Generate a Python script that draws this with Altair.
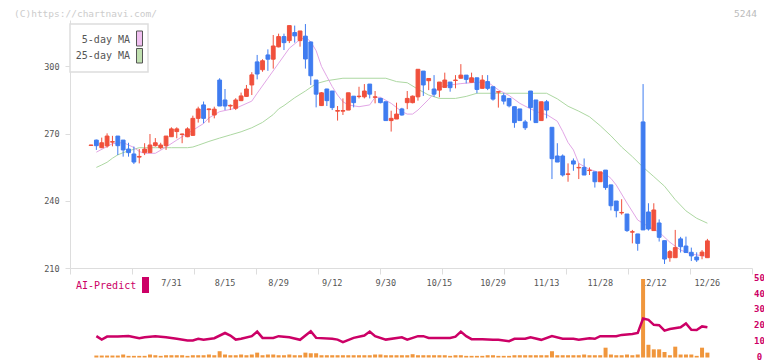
import altair as alt
import numpy as np
import pandas as pd

# ---------------- data ----------------
opens = [264.7,267.1,263.7,264.5,266.2,268.9,267.1,263.1,260.9,259.5,
         261.5,261.5,264.6,263.7,264.6,268.6,270.9,269.6,268.6,269.2,
         276.8,282.8,280.7,278.3,293.9,285.0,282.3,281.3,284.7,286.6,
         291.7,302.0,298.5,305.1,303.2,308.7,313.3,311.5,315.1,311.5,
         313.5,310.9,293.9,282.5,289.9,289.0,280.0,280.0,280.5,286.7,
         286.5,286.4,292.1,286.2,285.7,284.2,275.8,276.5,281.0,283.8,
         283.8,286.4,297.9,293.6,289.9,289.4,290.6,293.0,293.7,294.7,
         296.1,292.9,294.9,290.2,293.2,290.9,288.5,286.9,285.7,282.0,
         281.0,275.2,289.0,285.0,275.8,284.2,272.8,260.0,260.0,251.8,
         257.8,254.7,254.9,253.5,252.9,248.5,253.7,247.1,239.9,234.6,
         234.1,226.0,225.2,275.2,235.0,226.7,230.1,222.2,214.6,214.6,
         223.0,219.8,217.0,214.9,215.5,214.6]
highs = [265.0,267.3,268.2,270.1,269.0,268.9,267.1,265.9,264.2,263.1,
         265.7,269.8,268.0,265.9,268.9,272.8,272.8,270.0,272.8,278.0,
         282.0,284.3,281.2,282.0,294.7,289.9,283.0,285.8,288.3,291.7,
         297.4,305.1,303.2,307.6,314.0,314.6,314.6,318.2,318.2,315.8,
         318.9,311.0,293.9,288.5,290.0,289.0,282.3,285.7,288.2,286.7,
         290.9,292.1,292.1,289.0,286.0,284.2,280.2,283.8,281.5,289.0,
         287.0,298.7,297.9,294.6,296.1,293.0,297.2,293.0,296.1,301.0,
         296.1,297.2,294.9,296.1,296.1,290.9,289.0,288.0,285.7,282.0,
         281.0,276.1,289.0,285.0,284.2,285.0,272.8,265.7,260.7,256.7,
         258.9,256.7,258.9,254.9,252.9,252.9,253.7,247.1,239.9,240.7,
         234.1,227.0,225.2,292.1,238.9,238.9,231.7,222.2,218.0,227.0,
         223.9,224.0,219.1,217.0,218.0,223.0]
lows = [264.6,262.7,263.5,263.7,264.3,260.4,259.7,259.7,256.4,256.7,
        260.4,261.5,264.2,263.0,262.7,268.6,267.9,265.7,268.4,269.0,
        274.9,274.6,274.9,276.8,282.3,280.5,280.5,280.5,284.5,286.4,
        287.2,294.2,297.6,298.0,299.0,308.5,307.3,310.4,310.6,308.8,
        299.0,291.7,281.7,282.3,282.3,280.5,275.8,278.3,280.5,281.7,
        285.7,285.7,285.7,283.5,283.5,275.8,270.9,276.5,278.0,280.9,
        283.5,284.7,286.8,289.4,286.4,286.2,290.6,288.7,290.2,294.6,
        292.4,292.9,288.0,290.2,289.4,284.7,281.6,283.0,281.7,272.6,
        275.8,271.6,275.8,274.9,275.8,276.8,249.7,257.3,250.8,248.5,
        253.4,249.7,251.5,251.5,245.9,248.5,244.9,235.7,232.6,233.8,
        226.1,221.0,217.7,227.0,226.7,226.7,221.8,211.8,212.8,214.6,
        216.9,216.9,213.1,212.7,213.9,214.6]
closes = [264.9,264.6,265.9,268.9,266.4,264.6,262.7,261.5,257.3,259.8,
          263.1,264.9,265.9,264.9,268.9,272.1,272.1,269.8,272.1,276.8,
          281.0,276.8,281.0,280.9,282.3,282.3,282.6,285.0,286.8,289.9,
          296.2,296.6,302.5,303.2,309.1,313.3,310.6,318.2,313.6,315.8,
          303.3,295.8,287.6,288.2,284.7,281.6,280.3,280.3,288.2,283.8,
          286.7,289.0,287.6,286.4,283.8,275.8,276.8,278.7,278.3,285.7,
          286.7,298.7,291.7,294.6,287.6,293.0,293.9,290.5,293.9,296.1,
          294.2,294.9,289.7,293.9,290.2,285.4,288.7,284.5,282.4,274.9,
          275.8,272.6,281.6,274.9,284.2,280.5,258.8,257.3,251.5,252.0,
          256.4,254.9,251.5,253.7,248.5,252.9,245.9,237.8,235.6,234.8,
          226.7,226.2,221.0,227.0,227.4,235.9,223.7,214.0,217.3,219.1,
          219.5,216.9,215.4,213.6,217.1,222.1]

ma5_idx = [1,4,6,8,9,10,12,14,16,18,19,21,22,24,27,30,31,33,35,37,
           39,40,41,42,43,44,45,46,47,48,50,52,53,54,56,58,59,60,61,63,
           65,67,69,72,74,76,78,80,82,84,85,87,88,89,90,91,93,95,96,97,
           98,100,102,104,106,108,110,112,114,115]
ma5_val = [261.7,265.5,266.0,263.8,262.0,261.2,261.2,264.0,267.1,270.1,
           271.5,274.5,277.0,279.8,281.3,284.5,288.0,294.7,301.4,308.1,
           312.0,313.0,311.0,307.0,300.0,295.5,291.0,287.2,284.2,282.8,
           282.0,282.8,286.2,286.2,283.5,279.8,278.7,278.7,280.5,285.3,
           290.6,291.7,292.3,292.9,293.0,289.5,287.0,283.5,281.0,279.0,
           278.5,275.5,271.0,266.0,262.7,256.7,254.0,252.5,252.0,250.0,
           247.0,239.0,231.4,228.5,226.0,221.5,218.0,216.2,215.5,215.1]

ma25_idx = [1,2,3,4,5,6,8,9,12,15,18,19,20,22,24,26,28,30,32,34,
            35,36,38,40,42,44,47,50,55,57,59,61,63,65,68,70,72,78,85,87,
            89,91,93,95,97,99,101,103,105,107,109,111,113,115]
ma25_val = [254.9,256.0,257.2,259.0,260.5,261.5,263.0,263.7,263.7,263.7,
            263.7,264.0,264.8,266.5,268.0,269.4,270.8,272.6,275.0,278.5,
            281.0,282.5,286.0,289.0,292.3,293.6,294.7,294.7,294.7,293.2,
            292.7,289.8,287.2,285.7,285.7,286.6,288.0,288.0,288.0,285.5,
            282.2,280.0,277.5,273.5,269.0,264.0,259.7,255.0,250.8,246.5,
            240.5,235.5,232.2,230.0]

pred_idx = [1,2,3,5,7,9,10,12,14,16,18,19,20,21,23,25,26,27,28,30,
            31,32,34,35,37,39,41,42,45,46,47,49,51,52,53,55,58,59,61,62,
            63,67,68,69,70,71,73,75,76,78,79,81,82,84,86,88,90,91,93,94,
            95,98,99,101,102,103,104,105,106,107,108,110,111,112,113,114,115]
pred_val = [13.6,11.4,13.3,13.3,13.75,12.3,12.9,13.6,12.9,11.9,
            10.8,10.8,11.9,11.25,12.3,15.6,14.0,11.4,11.9,13.6,
            16.5,12.5,12.5,13.6,12.9,11.25,16.7,12.5,11.9,11.4,
            9.8,12.5,14.0,16.5,13.6,11.4,12.9,11.4,13.6,13.6,
            12.5,12.5,13.3,16.5,13.6,11.7,11.7,11.25,11.25,10.4,
            11.9,11.9,12.9,11.25,13.6,11.9,11.9,11.25,12.3,11.9,
            13.6,13.6,14.4,15.0,15.6,24.8,24.0,20.8,20.6,17.1,
            18.1,19.2,21.7,17.7,17.5,19.8,19.2]

vol_val = [1.25,1.25,1.25,1.25,1.25,1.9,1.05,1.05,1.05,1.05,
           1.9,1.45,1.05,1.45,1.45,1.45,1.45,1.05,1.45,1.45,
           1.45,1.9,1.45,4.0,1.9,1.45,1.45,1.9,1.45,1.9,
           3.1,1.45,1.9,1.9,1.45,1.45,1.9,1.45,1.45,3.1,
           2.7,2.7,1.45,1.45,1.45,1.45,1.45,1.45,1.45,1.45,
           1.45,1.45,1.9,1.9,1.45,1.45,1.45,1.45,1.45,2.1,
           1.45,1.45,1.45,1.45,1.45,1.45,1.05,1.45,1.45,1.05,
           1.05,1.05,1.05,1.45,1.45,1.05,1.05,1.05,1.45,1.45,
           1.45,1.45,1.45,1.45,1.45,4.0,1.45,1.45,1.45,1.45,
           1.45,1.9,1.45,1.45,1.45,6.25,1.9,1.45,1.45,1.9,
           1.45,1.9,50.0,8.1,5.2,5.2,3.5,1.45,6.9,1.9,
           1.9,1.9,1.05,6.25,3.1]
vol_idx = list(range(1, 1 + len(vol_val)))

label_idx = [15, 25, 35, 45, 55, 65, 75, 85, 95, 105, 115]
label_text = ["7/31", "8/15", "8/29", "9/12", "9/30", "10/15", "10/29",
              "11/13", "11/28", "12/12", "12/26"]

legend_labels = ["5-day MA", "25-day MA"]

# ---------------- styles ----------------
W, H = 682, 339
RED, BLUE = "#f0503c", "#3f7cf0"
PINK, GREEN = "#e2a6e6", "#add8a2"
MAG, ORANGE = "#cc0066", "#f0963c"
MONO = "DejaVu Sans Mono"

XD = [-3.92, 123.32]
xs = alt.Scale(domain=XD, range=[0, W], nice=False, zero=False, padding=0)
x_ticks = [round(float(v), 3) for v in np.linspace(XD[0], XD[1], 12)]
x_axis = alt.Axis(values=x_ticks, labels=False, tickSize=6, tickColor="#dddddd",
                  domainColor="#dddddd", grid=False, title=None, offset=-91)

ys = alt.Scale(domain=[210, 320.7], range=[248, 0], nice=False, zero=False, padding=0)
y_axis = alt.Axis(values=[210, 240, 270, 300], tickSize=5, labelPadding=6,
                  tickColor="#dddddd", domainColor="#dddddd", grid=False, title=None,
                  labelFont=MONO, labelFontSize=8.5, labelColor="#555555")

ps = alt.Scale(domain=[0, 50], range=[337.5, 259], nice=False, padding=0)
p_axis = alt.Axis(orient="right", values=[0, 10, 20, 30, 40, 50], domain=False, ticks=False,
                  labelPadding=7, labelAlign="center", labelColor=MAG, labelFont=MONO,
                  labelFontSize=9, labelFontWeight="bold", grid=False, title=None,
                  labelOverlap=False, labelOffset=-1.5)

X = alt.X("i:Q", scale=xs, axis=x_axis)

df = pd.DataFrame({"i": list(range(len(opens))), "o": opens, "h": highs,
                   "l": lows, "c": closes})
df["dir"] = np.where(df["c"] >= df["o"], "up", "down")
cscale = alt.Scale(domain=["up", "down"], range=[RED, BLUE])

wicks = alt.Chart(df).mark_rule(strokeWidth=1).encode(
    x=X, y=alt.Y("l:Q", scale=ys, axis=y_axis), y2="h:Q",
    color=alt.Color("dir:N", scale=cscale, legend=None))
bodies = alt.Chart(df).mark_bar(size=3.8, strokeWidth=1).encode(
    x=X, y=alt.Y("o:Q", scale=ys, axis=y_axis), y2="c:Q",
    color=alt.Color("dir:N", scale=cscale, legend=None),
    stroke=alt.Stroke("dir:N", scale=cscale, legend=None))

ma5 = alt.Chart(pd.DataFrame({"i": ma5_idx, "v": ma5_val})).mark_line(
    color=PINK, strokeWidth=1).encode(x=X, y=alt.Y("v:Q", scale=ys, axis=y_axis))
ma25 = alt.Chart(pd.DataFrame({"i": ma25_idx, "v": ma25_val})).mark_line(
    color=GREEN, strokeWidth=1).encode(x=X, y=alt.Y("v:Q", scale=ys, axis=y_axis))

xlabels = alt.Chart(pd.DataFrame({"i": label_idx, "t": label_text})).mark_text(
    font=MONO, fontSize=8.5, color="#555555", align="center", baseline="middle").encode(
    x=X, y=alt.value(263), text="t:N")

price = alt.layer(xlabels, ma25, ma5, wicks, bodies)

bars = alt.Chart(pd.DataFrame({"i": vol_idx, "v": vol_val})).mark_bar(
    size=4, color=ORANGE).encode(x=X, y=alt.Y("v:Q", scale=ps, axis=p_axis))
pline = alt.Chart(pd.DataFrame({"i": pred_idx, "v": pred_val})).mark_line(
    color=MAG, strokeWidth=2.5).encode(x=X, y=alt.Y("v:Q", scale=ps, axis=p_axis))
pred = alt.layer(bars, pline)

one = pd.DataFrame({"k": [0]})


def text_at(t, x, y, size, color, align="left"):
    return alt.Chart(one).mark_text(text=t, font=MONO, fontSize=size, color=color,
                                    align=align, baseline="middle").encode(
        x=alt.value(x), y=alt.value(y))


def rect_at(x1, x2, y1, y2, fill, stroke, sw):
    return alt.Chart(one).mark_rect(fill=fill, stroke=stroke, strokeWidth=sw).encode(
        x=alt.value(x1), x2=alt.value(x2), y=alt.value(y1), y2=alt.value(y2))


annot = alt.layer(
    text_at("(C)https://chartnavi.com/", -56, -6.5, 9.5, "#cccccc"),
    text_at("5244", 687, -6.5, 9.5, "#bbbbbb", align="right"),
    rect_at(0, 78, 4, 52, "white", "#dddddd", 1.5),
    text_at(legend_labels[0], 60, 19.5, 10, "#555555", align="right"),
    text_at(legend_labels[1], 60, 36, 10, "#555555", align="right"),
    rect_at(66.5, 72.5, 11, 26, "#f0c0f0", "#555555", 1),
    rect_at(66.5, 72.5, 28.5, 43, "#c0e0b0", "#555555", 1),
    text_at("AI-Predict", 6, 266, 10, MAG),
    rect_at(72, 79, 257, 273, MAG, MAG, 0),
)

chart = alt.layer(price, pred, annot).resolve_scale(y="independent").properties(
    width=W, height=H,
    autosize=alt.AutoSizeParams(type="none"),
    padding={"left": 62, "top": 12, "right": 12, "bottom": 2},
).configure_view(stroke=None)

chart.save("out.html", embed_options={"renderer": "svg", "actions": False})
